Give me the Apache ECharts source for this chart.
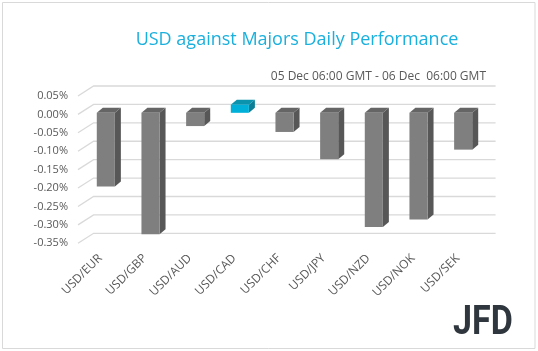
<!DOCTYPE html>
<html>
<head>
<meta charset="utf-8">
<title>USD against Majors Daily Performance</title>
<script src="https://cdn.jsdelivr.net/npm/echarts@6/dist/echarts.min.js"></script>
<style>
  html, body { margin: 0; padding: 0; background: #fff; }
  #chart { width: 538px; height: 351px; }
</style>
</head>
<body>
<div id="chart"></div>
<script>
// data (percent)
const pairs = ['USD/EUR', 'USD/GBP', 'USD/AUD', 'USD/CAD', 'USD/CHF', 'USD/JPY', 'USD/NZD', 'USD/NOK', 'USD/SEK']
const changes = [-0.20, -0.33, -0.036, 0.022, -0.052, -0.126, -0.31, -0.29, -0.10]
const yTicks = [0.05, 0.00, -0.05, -0.10, -0.15, -0.20, -0.25, -0.30, -0.35]

const font = '"Open Sans", "Noto Sans", sans-serif'
const gridColor = '#d9d9d9'
// 3d look: how far the back wall sits from the label plane, and bar depth
const wallDx = 15.6
const wallDy = -10
const barDx = 5.5
const barDy = -1.6
const depthDx = 6
const depthDy = -5

const chart = echarts.init(document.getElementById('chart'))

function renderWall(params, api) {
  const cs = params.coordSys
  const y = api.coord([0, api.value(1)])[1]
  const x0 = cs.x
  return {
    type: 'polyline',
    shape: { points: [[x0, y], [x0 + wallDx, y + wallDy], [x0 + cs.width + wallDx, y + wallDy]] },
    style: { stroke: gridColor, lineWidth: 1.3, fill: null },
    silent: true
  }
}

function renderBar(params, api) {
  const i = api.value(0)
  const v = api.value(1)
  const pZero = api.coord([i, 0])
  const pVal = api.coord([i, v])
  const w = api.size([1, 0])[0] * 0.405
  const left = pZero[0] - w / 2 + barDx
  const right = left + w
  const yTop = Math.min(pZero[1], pVal[1]) + barDy
  const yBot = Math.max(pZero[1], pVal[1]) + barDy
  const up = v >= 0
  const cFront = up ? '#00b0d8' : '#7f7f7f'
  const cSide = up ? '#0a7f96' : '#575757'
  const cTop = up ? '#0b93ad' : '#656565'
  return {
    type: 'group',
    children: [
      {
        type: 'polygon',
        shape: { points: [[right, yTop], [right + depthDx, yTop + depthDy], [right + depthDx, yBot + depthDy], [right, yBot]] },
        style: { fill: cSide }
      },
      {
        type: 'polygon',
        shape: { points: [[left, yTop], [left + depthDx, yTop + depthDy], [right + depthDx, yTop + depthDy], [right, yTop]] },
        style: { fill: cTop }
      },
      {
        type: 'rect',
        shape: { x: left, y: yTop, width: w, height: yBot - yTop },
        style: { fill: cFront }
      }
    ]
  }
}

chart.setOption({
  animation: false,
  backgroundColor: '#fff',
  title: [
    {
      text: 'USD against Majors Daily Performance',
      left: 292,
      top: 26,
      textAlign: 'center',
      textStyle: { color: '#1ab0dd', fontSize: 18, fontWeight: 'normal', fontFamily: font }
    },
    {
      text: '05 Dec 06:00 GMT - 06 Dec  06:00 GMT',
      right: 47,
      top: 66,
      textStyle: { color: '#595959', fontSize: 12, fontWeight: 'normal', fontFamily: font }
    }
  ],
  grid: { left: 78, top: 96, width: 402, height: 147.3 },
  xAxis: {
    type: 'category',
    data: pairs,
    axisLine: { show: false },
    axisTick: { show: false },
    axisLabel: { rotate: 45, interval: 0, margin: 13, color: '#595959', fontSize: 12, fontFamily: font }
  },
  yAxis: {
    type: 'value',
    min: -0.35,
    max: 0.05,
    interval: 0.05,
    axisLine: { show: false },
    axisTick: { show: false },
    splitLine: { show: false },
    axisLabel: {
      margin: 10,
      color: '#595959',
      fontSize: 11,
      fontFamily: font,
      formatter: v => v.toFixed(2) + '%'
    }
  },
  series: [
    {
      type: 'custom',
      name: 'wall',
      renderItem: renderWall,
      data: yTicks.map(t => [0, t]),
      z: 1,
      silent: true
    },
    {
      type: 'custom',
      name: 'change',
      renderItem: renderBar,
      data: changes.map((v, i) => [i, v]),
      encode: { x: 0, y: 1 },
      z: 2
    }
  ],
  graphic: [
    {
      type: 'rect',
      shape: { x: 2.5, y: 2.5, width: 532.5, height: 346 },
      style: { fill: null, stroke: '#d9d9d9', lineWidth: 1 },
      silent: true
    },
    {
      type: 'text',
      left: 453,
      top: 304,
      style: {
        text: 'JFD',
        fill: '#2f363d',
        font: 'bold 40px Roboto, sans-serif'
      },
      scaleX: 0.85
    }
  ]
})
</script>
</body>
</html>
